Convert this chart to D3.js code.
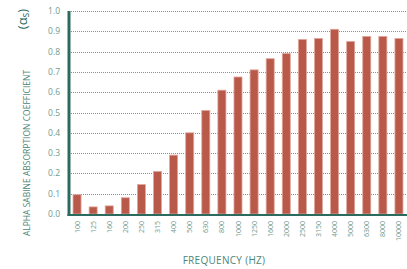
<!DOCTYPE html>
<html>
<head>
<meta charset="utf-8">
<script src="https://cdn.jsdelivr.net/npm/d3@7"></script>
<style>
  body { margin: 0; background: #fff; }
  svg { display: block; font-family: "Open Sans", "Noto Sans", sans-serif; }
</style>
</head>
<body>
<svg id="chart" width="407" height="269"></svg>
<script>
// frequency bands (Hz) and alpha sabine values
var bands = ["100", "125", "160", "200", "250", "315", "400", "500", "630", "800", "1000",
             "1250", "1600", "2000", "2500", "3150", "4000", "5000", "6300", "8000", "10000"];
var alpha = [0.095, 0.035, 0.04, 0.08, 0.145, 0.21, 0.29, 0.40, 0.51, 0.61, 0.675,
             0.71, 0.765, 0.79, 0.86, 0.865, 0.91, 0.85, 0.875, 0.875, 0.865];
var yTicks = [0, 0.1, 0.2, 0.3, 0.4, 0.5, 0.6, 0.7, 0.8, 0.9, 1.0];

(function () {

    var svg = d3.select("#chart"),
        x0 = 69, x1 = 407, y0 = 214, y1 = 11;

    var x = d3.scaleBand().domain(bands).range([x0, x1]).paddingInner(0.5).paddingOuter(0.25);
    var y = d3.scaleLinear().domain([0, 1]).range([y0, y1]);

    // dotted grid lines
    svg.append("g")
        .selectAll("line")
        .data(yTicks.filter(function (d) { return d > 0; }))
        .enter().append("line")
        .attr("x1", x0).attr("x2", x1)
        .attr("y1", function (d) { return Math.round(y(d)) + 0.5; })
        .attr("y2", function (d) { return Math.round(y(d)) + 0.5; })
        .style("stroke", "#6c9f93")
        .style("stroke-width", 1)
        .style("stroke-dasharray", "1,1");

    // y tick labels
    svg.append("g")
        .selectAll("text")
        .data(yTicks)
        .enter().append("text")
        .attr("x", 60)
        .attr("y", function (d) { return y(d) + 3; })
        .style("text-anchor", "end")
        .style("font-size", "8.5px")
        .style("fill", "#6f9a90")
        .text(function (d) { return d.toFixed(1); });

    // bars
    svg.append("g")
        .selectAll("rect")
        .data(alpha)
        .enter().append("rect")
        .attr("x", function (d, i) { return x(bands[i]); })
        .attr("y", function (d) { return y(d); })
        .attr("width", x.bandwidth())
        .attr("height", function (d) { return y0 - y(d); })
        .style("fill", "#b9594a")
        .style("stroke", "#e2a79d")
        .style("stroke-width", 0.8);

    // axis lines
    svg.append("line")
        .attr("x1", x0 - 1.5).attr("x2", x1)
        .attr("y1", y0 + 1).attr("y2", y0 + 1)
        .style("stroke", "#2b6b5e").style("stroke-width", 2);
    svg.append("line")
        .attr("x1", x0).attr("x2", x0)
        .attr("y1", y1).attr("y2", y0 + 2)
        .style("stroke", "#2b6b5e").style("stroke-width", 3);

    // x tick labels, rotated
    svg.append("g")
        .selectAll("text")
        .data(bands)
        .enter().append("text")
        .attr("transform", function (d) {
            return "translate(" + (x(d) + x.bandwidth() / 2 + 2.5) + ",221) rotate(-90)";
        })
        .style("text-anchor", "end")
        .style("font-size", "7px")
        .style("fill", "#6f9a90")
        .text(function (d) { return d; });

    // axis titles
    svg.append("text")
        .attr("x", 224).attr("y", 264)
        .style("text-anchor", "middle")
        .style("font-size", "10px")
        .style("letter-spacing", "0.3px")
        .style("fill", "#4e8679")
        .text("FREQUENCY (HZ)");

    svg.append("text")
        .attr("transform", "translate(30,153) rotate(-90)")
        .style("text-anchor", "middle")
        .style("font-size", "8.5px")
        .style("fill", "#4e8679")
        .text("ALPHA SABINE ABSORPTION COEFFICIENT");

    var sym = svg.append("text")
        .attr("transform", "translate(27,19) rotate(-90)")
        .style("text-anchor", "middle")
        .style("font-size", "13px")
        .style("fill", "#2b6b5e");
    sym.append("tspan").text("(α");
    sym.append("tspan").attr("dy", 2).style("font-size", "10px").text("s");
    sym.append("tspan").attr("dy", -2).text(")");
}());
</script>
</body>
</html>
